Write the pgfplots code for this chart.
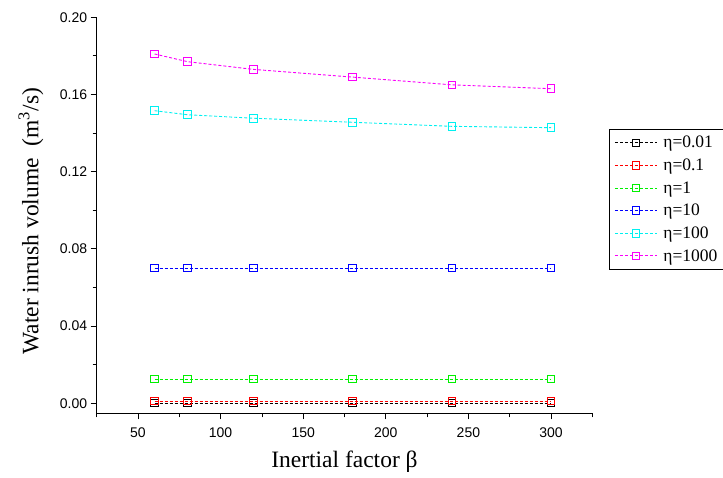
\documentclass[border=0pt]{standalone}
\usepackage{pgfplots}
\pgfplotsset{compat=1.18}
\usepackage{fontspec}
\setmainfont{Liberation Serif}
\newfontfamily\arialfont{Liberation Sans}
\definecolor{cgreen}{RGB}{0,240,0}
\definecolor{ccyan}{RGB}{0,240,240}
\definecolor{cmag}{RGB}{250,0,250}
\pgfplotsset{myp/.style={color=#1, densely dashed, line width=0.9pt, mark=square, mark size=3.8pt, mark options={solid, color=#1, line width=1pt, fill=none}}}
\begin{document}
\begin{tikzpicture}
\begin{axis}[
  scale only axis,
  width=495.6pt, height=396pt,
  xmin=25, xmax=325,
  ymin=-0.0052, ymax=0.20,
  axis lines*=left,
  axis line style={line width=0.9pt},
  xtick={50,100,...,300},
  minor xtick={25,75,...,325},
  ytick={0,0.04,...,0.2},
  minor ytick={0.02,0.06,...,0.18},
  tick align=outside,
  major tick length=6pt,
  minor tick length=4pt,
  tick style={line width=0.8pt, black},
  /pgf/number format/assume math mode=true,
  yticklabel style={/pgf/number format/fixed, /pgf/number format/fixed zerofill, /pgf/number format/precision=2},
  xticklabel style={yshift=-5pt},
  scaled y ticks=false,
  tick label style={font=\arialfont\fontsize{14}{16}\selectfont},
  xlabel={Inertial factor β},
  ylabel={Water inrush volume\ \ (m\textsuperscript{3}/s)},
  label style={font=\fontsize{23.5}{26}\selectfont},
  xlabel style={at={(axis description cs:0.5,0)}, anchor=center, yshift=-48.7pt},
  ylabel style={at={(axis description cs:0,0.485)}, anchor=center, yshift=65.7pt},
  legend style={at={(1.034,0.718)}, anchor=north west, draw=black, line width=0.6pt,
    font=\fontsize{17.5}{20}\selectfont, row sep=5.5pt, inner xsep=5pt, inner ysep=5pt},
  legend cell align=left,
  legend image code/.code={
    \draw[#1] (0pt,0pt) -- (42pt,0pt);
    \draw[#1, solid, mark repeat=1] plot coordinates {(21pt,0pt)};
    \path (46pt,0pt);
  },
  clip=false,
]
\coordinate (bl) at (rel axis cs:0,0);
\addplot[myp=black] coordinates {(60,0.0001) (80,0.0001) (120,0.0001) (180,0.0001) (240,0.0001) (300,0.0001)};
\addlegendentry{η=0.01}
\addplot[myp=red] coordinates {(60,0.0012) (80,0.0012) (120,0.0012) (180,0.0012) (240,0.0012) (300,0.0012)};
\addlegendentry{η=0.1}
\addplot[myp=cgreen] coordinates {(60,0.0125) (80,0.0125) (120,0.0125) (180,0.0125) (240,0.0125) (300,0.0125)};
\addlegendentry{η=1}
\addplot[myp=blue] coordinates {(60,0.070) (80,0.070) (120,0.070) (180,0.070) (240,0.070) (300,0.070)};
\addlegendentry{η=10}
\addplot[myp=ccyan] coordinates {(60,0.1516) (80,0.1495) (120,0.1477) (180,0.1456) (240,0.1435) (300,0.1428)};
\addlegendentry{η=100}
\addplot[myp=cmag] coordinates {(60,0.181) (80,0.177) (120,0.173) (180,0.169) (240,0.165) (300,0.163)};
\addlegendentry{η=1000}
\end{axis}
\pgfresetboundingbox
\path[use as bounding box] (bl) ++(-96.7pt,-63.7pt) rectangle ++(723pt,477pt);
\end{tikzpicture}
\end{document}
